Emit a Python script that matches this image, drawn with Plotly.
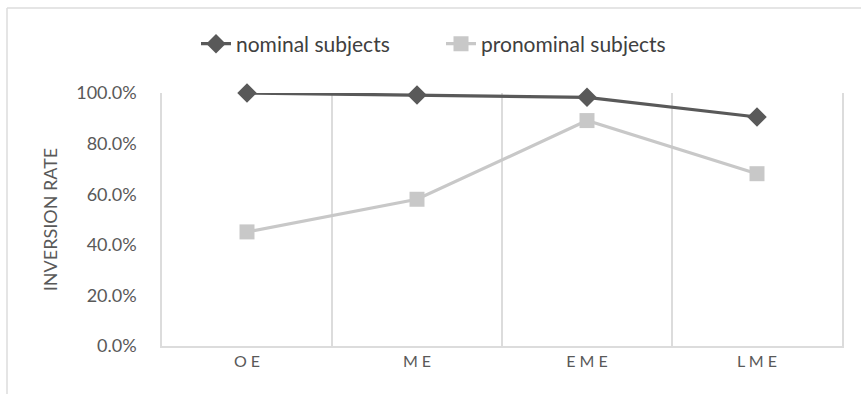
import plotly.graph_objects as go

categories = ["O E", "M E", "E M E", "L M E"]
nominal = [1.000, 0.992, 0.983, 0.905]
pronominal = [0.451, 0.580, 0.891, 0.681]
ytick_vals = [0, 0.2, 0.4, 0.6, 0.8, 1.0]

xs = list(range(len(categories)))
FONT = "Lato, 'Open Sans', sans-serif"
GRID = "#DCDCDC"

L, R, T, B = 162, 19, 93, 48
W, H = 861, 394
PW, PH = W - L - R, H - T - B

fig = go.Figure()
fig.add_trace(go.Scatter(
    x=xs, y=nominal, name="nominal subjects", mode="lines+markers",
    line=dict(color="#595959", width=3.2),
    marker=dict(symbol="diamond", size=15, color="#595959"),
    cliponaxis=False,
))
fig.add_trace(go.Scatter(
    x=xs, y=pronominal, name="pronominal subjects", mode="lines+markers",
    line=dict(color="#C8C8C8", width=3.2),
    marker=dict(symbol="square", size=15, color="#C8C8C8"),
    cliponaxis=False,
))

fig.update_layout(
    width=W, height=H,
    margin=dict(l=L, r=R, t=T, b=B),
    paper_bgcolor="white", plot_bgcolor="white",
    font=dict(family=FONT, color="#595959", size=18),
    showlegend=True,
    legend=dict(orientation="h", xref="container", yref="container",
                x=441 / W, xanchor="center", y=1 - 44 / H, yanchor="middle",
                font=dict(size=21, color="#404040"),
                entrywidth=200, entrywidthmode="pixels",
                traceorder="normal"),
    xaxis=dict(
        range=[-0.5, len(categories) - 0.5],
        tickvals=xs, ticktext=categories,
        showgrid=False, zeroline=False,
        showline=True, linecolor=GRID, linewidth=1.5,
        ticks="", tickfont=dict(size=16, color="#595959"),
        minor=dict(tickvals=[i + 0.5 for i in range(len(categories) - 1)],
                   showgrid=True, gridcolor=GRID, gridwidth=1.5, ticks=""),
        fixedrange=True,
    ),
    yaxis=dict(
        range=[0, 1.0],
        tickvals=ytick_vals, tickformat=".1%",
        showgrid=False, zeroline=False,
        showline=True, mirror=True, linecolor=GRID, linewidth=1.5,
        ticks="", ticklabelstandoff=20,
        tickfont=dict(size=18, color="#595959"),
        title=dict(text="INVERSION RATE", font=dict(size=18, color="#595959"), standoff=14),
    ),
)

# chart frame (left and top edges visible)
fx = (7 - L) / PW
fy = (H - B - 8) / PH
fig.add_shape(type="line", xref="paper", yref="paper",
              x0=fx, x1=fx, y0=-B / PH - 0.01, y1=fy,
              line=dict(color=GRID, width=1.5))
fig.add_shape(type="line", xref="paper", yref="paper",
              x0=fx, x1=(W - L) / PW + 0.01, y0=fy, y1=fy,
              line=dict(color=GRID, width=1.5))

fig.write_html("out.html")
